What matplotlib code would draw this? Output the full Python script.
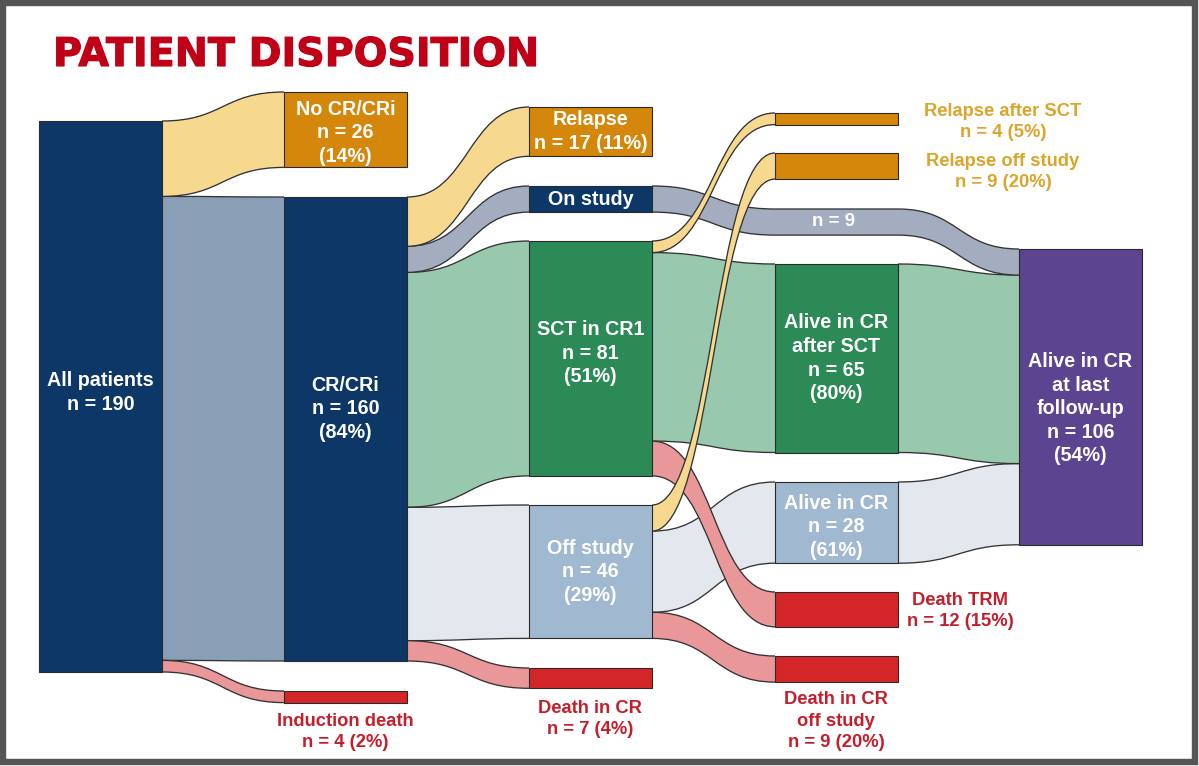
import matplotlib
matplotlib.use("Agg")
import matplotlib.pyplot as plt
import matplotlib.patheffects as pe
from matplotlib.path import Path
from matplotlib.patches import PathPatch, Rectangle

# ---- data ---------------------------------------------------------------
node_names = [
    "All patients", "No CR/CRi", "CR/CRi", "Induction death",
    "Relapse", "On study", "SCT in CR1", "Off study", "Death in CR",
    "Relapse after SCT", "Relapse off study", "Alive in CR after SCT",
    "Alive in CR", "Death TRM", "Death in CR off study", "Last follow-up",
]
node_n = [190, 26, 160, 4, 17, 9, 81, 46, 7, 4, 9, 65, 28, 12, 9, 106]
node_pct = [None, 14, 84, 2, 11, None, 51, 29, 4, 5, 20, 80, 61, 15, 20, 54]

flows = [
    ("All patients", "No CR/CRi", 26),
    ("All patients", "CR/CRi", 160),
    ("All patients", "Induction death", 4),
    ("CR/CRi", "Relapse", 17),
    ("CR/CRi", "On study", 9),
    ("CR/CRi", "SCT in CR1", 81),
    ("CR/CRi", "Off study", 46),
    ("CR/CRi", "Death in CR", 7),
    ("SCT in CR1", "Relapse after SCT", 4),
    ("SCT in CR1", "Alive in CR after SCT", 65),
    ("SCT in CR1", "Death TRM", 12),
    ("Off study", "Relapse off study", 9),
    ("Off study", "Alive in CR", 28),
    ("Off study", "Death in CR off study", 9),
    ("On study", "Last follow-up", 9),
    ("Alive in CR after SCT", "Last follow-up", 65),
    ("Alive in CR", "Last follow-up", 28),
]

# ---- style / layout -----------------------------------------------------
NAVY = "#0c3766"
ORANGE = "#d4870a"
GREEN = "#2b8a55"
LBLUE = "#a0b8d0"
RED = "#d42629"
PURPLE = "#5c4490"

YELLOW_B = "#f6d88f"
STEEL_B = "#889fb6"
GRAY_B = "#a3adbf"
GREEN_B = "#98c8ad"
LIGHT_B = "#e3e8ef"
PINK_B = "#e99799"

TXT_ORANGE = "#dba52a"
TXT_RED = "#c41e2a"

SCALE = 2.9
COL_X = [39, 284, 529, 775, 1019]
NODE_W = 123

# column, top (px), fill colour
node_layout = {
    "All patients": (0, 121, NAVY),
    "No CR/CRi": (1, 92, ORANGE),
    "CR/CRi": (1, 197, NAVY),
    "Induction death": (1, 691, RED),
    "Relapse": (2, 107, ORANGE),
    "On study": (2, 186, NAVY),
    "SCT in CR1": (2, 241, GREEN),
    "Off study": (2, 505, LBLUE),
    "Death in CR": (2, 668, RED),
    "Relapse after SCT": (3, 113, ORANGE),
    "Relapse off study": (3, 153, ORANGE),
    "Alive in CR after SCT": (3, 264, GREEN),
    "Alive in CR": (3, 482, LBLUE),
    "Death TRM": (3, 592, RED),
    "Death in CR off study": (3, 656, RED),
    "Last follow-up": (4, 249, PURPLE),
}

# band colour and z-order, by target node (or by source for the last column)
flow_style = {
    "No CR/CRi": (YELLOW_B, 3),
    "CR/CRi": (STEEL_B, 1),
    "Induction death": (PINK_B, 2),
    "Relapse": (YELLOW_B, 3),
    "On study": (GRAY_B, 2),
    "SCT in CR1": (GREEN_B, 1),
    "Off study": (LIGHT_B, 1),
    "Death in CR": (PINK_B, 2),
    "Relapse after SCT": (YELLOW_B, 3),
    "Alive in CR after SCT": (GREEN_B, 1),
    "Death TRM": (PINK_B, 2),
    "Relapse off study": (YELLOW_B, 3),
    "Alive in CR": (LIGHT_B, 1),
    "Death in CR off study": (PINK_B, 2),
}
# on-study band runs straight through column 3
via = {("On study", "Last follow-up"): [(3, 209)]}

label_title = {
    "All patients": "All patients",
    "No CR/CRi": "No CR/CRi",
    "CR/CRi": "CR/CRi",
    "Induction death": "Induction death",
    "Relapse": "Relapse",
    "On study": "On study",
    "SCT in CR1": "SCT in CR1",
    "Off study": "Off study",
    "Death in CR": "Death in CR",
    "Relapse after SCT": "Relapse after SCT",
    "Relapse off study": "Relapse off study",
    "Alive in CR after SCT": "Alive in CR\nafter SCT",
    "Alive in CR": "Alive in CR",
    "Death TRM": "Death TRM",
    "Death in CR off study": "Death in CR\noff study",
    "Last follow-up": "Alive in CR\nat last\nfollow-up",
}
pct_same_line = {"Induction death", "Relapse", "Death in CR", "Relapse after SCT",
                 "Relapse off study", "Death TRM", "Death in CR off study"}
no_count = {"On study"}
# outside labels: centre position and colour
outside = {
    "Induction death": (345, 732, TXT_RED),
    "Death in CR": (590, 719, TXT_RED),
    "Death in CR off study": (836, 721, TXT_RED),
    "Death TRM": (960, 611, TXT_RED),
    "Relapse after SCT": (1003, 122, TXT_ORANGE),
    "Relapse off study": (1003, 172, TXT_ORANGE),
}
inside_dy = {"CR/CRi": -20, "All patients": -4, "SCT in CR1": -5, "Last follow-up": 12,
             "Alive in CR": 4, "No CR/CRi": 3}

FONT = ["Liberation Sans", "DejaVu Sans"]


def curve_pts(x0, y0, x1, y1):
    w = x1 - x0
    return [(x0 + 0.5 * w, y0), (x1 - 0.5 * w, y1), (x1, y1)]


def draw_band(ax, route, h, color, z):
    # route: list of (x, ytop) points joined by S-curves
    verts = [route[0]]
    codes = [Path.MOVETO]
    for (xa, ya), (xb, yb) in zip(route[:-1], route[1:]):
        verts += curve_pts(xa, ya, xb, yb)
        codes += [Path.CURVE4] * 3
    back = [(x, y + h) for x, y in route[::-1]]
    bot_verts = [back[0]]
    bot_codes = [Path.MOVETO]
    for (xa, ya), (xb, yb) in zip(back[:-1], back[1:]):
        bot_verts += curve_pts(xa, ya, xb, yb)
        bot_codes += [Path.CURVE4] * 3
    fill_v = verts + [back[0]] + bot_verts[1:] + [route[0]]
    fill_c = codes + [Path.LINETO] + bot_codes[1:] + [Path.CLOSEPOLY]
    ax.add_patch(PathPatch(Path(fill_v, fill_c), facecolor=color, edgecolor="none",
                           zorder=z))
    for v, c in ((verts, codes), (bot_verts, bot_codes)):
        ax.add_patch(PathPatch(Path(v, c), facecolor="none", edgecolor="#333333",
                               lw=0.95, zorder=z + 0.1))


fig = plt.figure(figsize=(11.99, 7.66), dpi=100)
ax = fig.add_axes([0, 0, 1, 1])
ax.set_xlim(0, 1199)
ax.set_ylim(766, 0)
ax.axis("off")

# node sizes from flows
inflow = {n: 0 for n in node_names}
outflow = {n: 0 for n in node_names}
for s, d, v in flows:
    outflow[s] += v
    inflow[d] += v
height = {n: max(inflow[n], outflow[n]) * SCALE for n in node_names}

out_off = {n: node_layout[n][1] for n in node_names}
in_off = {n: node_layout[n][1] for n in node_names}

for s, d, v in flows:
    h = v * SCALE
    cs, ys = node_layout[s][0], out_off[s]
    cd, yd = node_layout[d][0], in_off[d]
    out_off[s] += h
    in_off[d] += h
    route = [(COL_X[cs] + NODE_W, ys)]
    for col, yv in via.get((s, d), []):
        route += [(COL_X[col], yv), (COL_X[col] + NODE_W, yv)]
    route.append((COL_X[cd], yd))
    color, z = flow_style[d] if d in flow_style else flow_style[s]
    draw_band(ax, route, h, color, z)

for i, name in enumerate(node_names):
    col, top, color = node_layout[name]
    ax.add_patch(Rectangle((COL_X[col], top), NODE_W, height[name], facecolor=color,
                           edgecolor="#2a2a2a", lw=0.8, zorder=5))
    txt = label_title[name]
    if name not in no_count:
        if node_pct[i] is None:
            txt += f"\nn = {node_n[i]}"
        elif name in pct_same_line:
            txt += f"\nn = {node_n[i]} ({node_pct[i]}%)"
        else:
            txt += f"\nn = {node_n[i]}\n({node_pct[i]}%)"
    if name in outside:
        x, y, tc = outside[name]
        ax.text(x, y, txt, ha="center", va="center", color=tc, fontsize=13.2,
                fontweight="bold", family=FONT, linespacing=1.35, zorder=6)
    else:
        ax.text(COL_X[col] + NODE_W / 2, top + height[name] / 2 + inside_dy.get(name, 0),
                txt, ha="center", va="center", color="white", fontsize=14.2,
                fontweight="bold", family=FONT, linespacing=1.3, zorder=6)

# label on the pass-through band
ax.text(COL_X[3] + NODE_W / 2 - 3, 222, "n = 9", ha="center", va="center", color="white",
        fontsize=13.5, fontweight="bold", family=FONT, zorder=6)

title = ax.text(53, 66, "PATIENT DISPOSITION", ha="left", va="baseline", color="#bf0016",
                fontsize=28.5, fontweight="bold", family=["DejaVu Sans"], zorder=6)
title.set_path_effects([pe.withStroke(linewidth=0.8, foreground="#bf0016")])

# frame
ax.add_patch(Rectangle((3, 3), 1192, 759, facecolor="none", edgecolor="#555555",
                       lw=4.6, zorder=10))

fig.savefig("out.png", dpi=100, facecolor="white")
